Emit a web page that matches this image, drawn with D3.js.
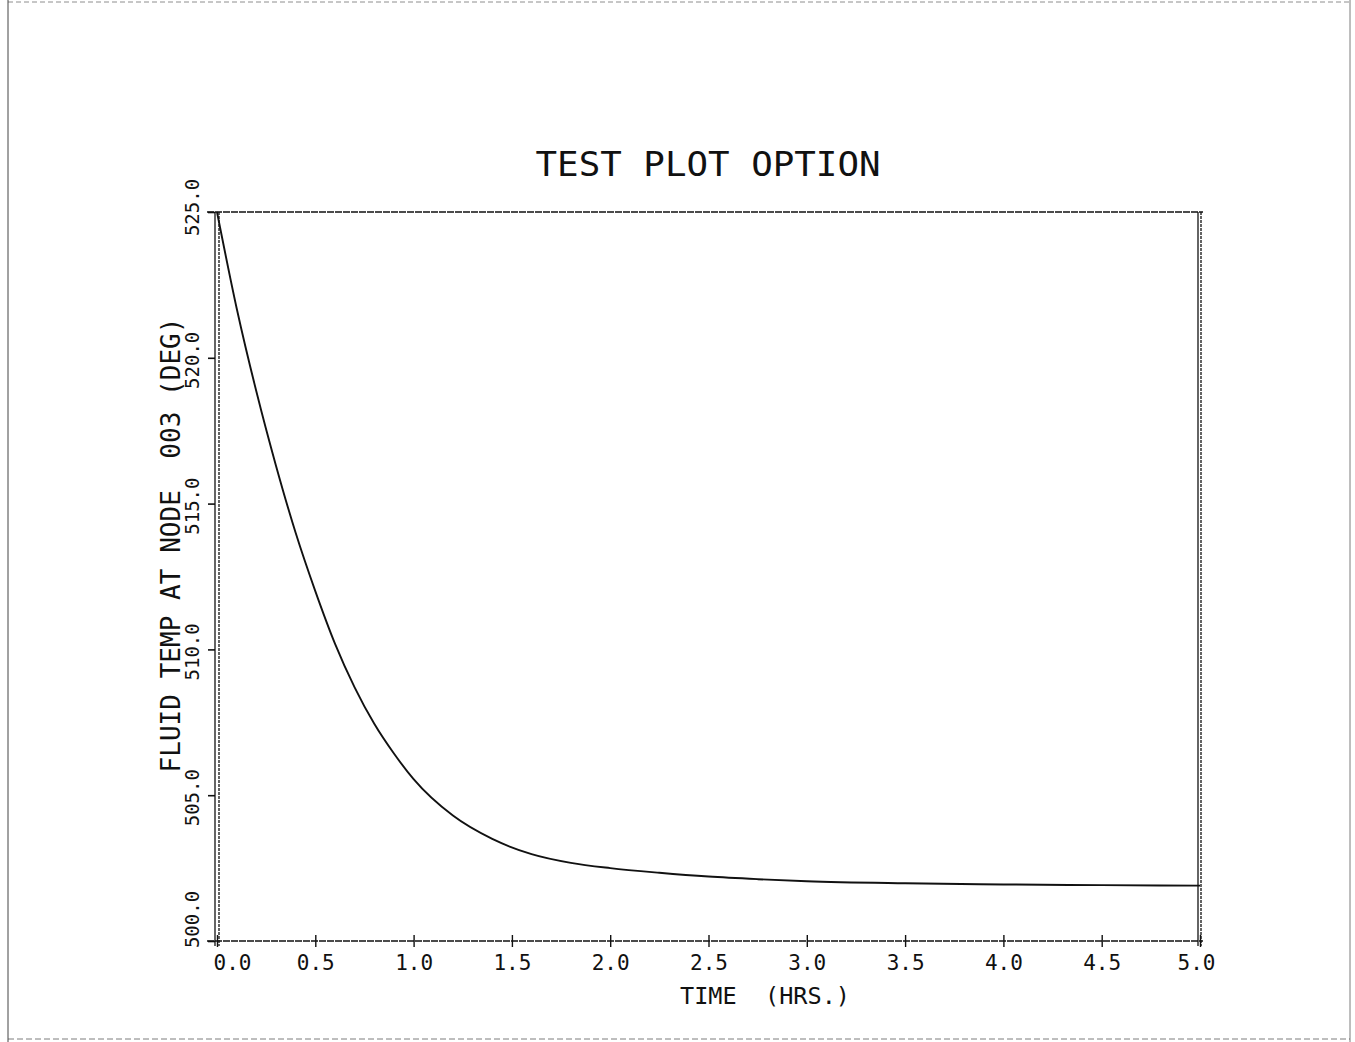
<!DOCTYPE html>
<html>
<head>
<meta charset="utf-8">
<script src="https://cdn.jsdelivr.net/npm/d3@7/dist/d3.min.js"></script>
<style>
  html, body { margin: 0; padding: 0; background: #fff; }
  svg { display: block; }
  text { font-family: "DejaVu Sans Mono", "Liberation Mono", monospace; fill: #111; white-space: pre; }
</style>
</head>
<body>
<svg id="chart" width="1355" height="1042"></svg>
<script>
// ---- data ----
const timeHrs = [0.0, 0.1, 0.2, 0.3, 0.4, 0.5, 0.6, 0.7, 0.8, 0.9, 1.0, 1.2, 1.4, 1.6, 1.8, 2.0, 2.25, 2.5, 2.75, 3.0, 3.5, 4.0, 4.5, 5.0];
const fluidTemp = [525.0, 521.7, 518.85, 516.3, 514.0, 512.0, 510.2, 508.7, 507.45, 506.43, 505.55, 504.3, 503.5, 502.98, 502.68, 502.5, 502.34, 502.21, 502.12, 502.05, 501.98, 501.94, 501.915, 501.9];
const xTicks = [0.0, 0.5, 1.0, 1.5, 2.0, 2.5, 3.0, 3.5, 4.0, 4.5, 5.0];
const yTicks = [500.0, 505.0, 510.0, 515.0, 520.0, 525.0];
const titleText = "TEST PLOT OPTION";
const xLabelText = "TIME  (HRS.)";
const yLabelText = "FLUID TEMP AT NODE  003 (DEG)";

const svg = d3.select("#chart");
const L = 217, R = 1200, T = 212, B = 941;

const x = d3.scaleLinear().domain([0, 5]).range([L, R]);
const y = d3.scaleLinear().domain([500, 525]).range([B, T]);

// page border (scan edges)
const border = svg.append("g").attr("fill", "none").attr("stroke", "#444").attr("stroke-width", 1);
border.append("line").attr("x1", 8).attr("x2", 1350).attr("y1", 2).attr("y2", 2).attr("stroke-dasharray", "5,3").attr("opacity", 0.6);
border.append("line").attr("x1", 8).attr("x2", 1350).attr("y1", 1039).attr("y2", 1039).attr("stroke-dasharray", "6,3").attr("opacity", 0.7);
border.append("line").attr("x1", 8).attr("x2", 8).attr("y1", 0).attr("y2", 1042);
border.append("line").attr("x1", 1350).attr("x2", 1350).attr("y1", 0).attr("y2", 1042).attr("opacity", 0.7);

// plot frame
const frame = svg.append("g").attr("fill", "none").attr("stroke", "#111");
frame.append("line").attr("x1", L - 10).attr("x2", R + 3).attr("y1", T).attr("y2", T).attr("stroke-width", 1.6).attr("stroke-dasharray", "7,1");
frame.append("line").attr("x1", L - 10).attr("x2", R + 3).attr("y1", B).attr("y2", B).attr("stroke-width", 1.6).attr("stroke-dasharray", "7,1");
frame.append("line").attr("x1", L - 2).attr("x2", L - 2).attr("y1", T).attr("y2", B + 5).attr("stroke-width", 1.3);
frame.append("line").attr("x1", L + 2).attr("x2", L + 2).attr("y1", T).attr("y2", B + 5).attr("stroke-width", 1.3).attr("stroke-dasharray", "3,1");
frame.append("line").attr("x1", R - 2).attr("x2", R - 2).attr("y1", T).attr("y2", B + 5).attr("stroke-width", 1.3);
frame.append("line").attr("x1", R + 1).attr("x2", R + 1).attr("y1", T).attr("y2", B + 5).attr("stroke-width", 1.3).attr("stroke-dasharray", "3,1");

// x axis
const xAxis = svg.append("g").attr("transform", `translate(0,${B - 6})`)
  .call(d3.axisBottom(x).tickValues(xTicks).tickFormat(d3.format(".1f")).tickSize(12).tickPadding(8));
xAxis.select(".domain").remove();
xAxis.selectAll(".tick line").attr("stroke", "#111").attr("stroke-width", 1.4);
xAxis.selectAll(".tick text")
  .attr("font-size", 21).attr("font-family", "DejaVu Sans Mono, monospace").attr("fill", "#111")
  .attr("dx", (d, i) => i === 0 ? 15 : (i === xTicks.length - 1 ? -4 : 0));

// y axis
const yAxis = svg.append("g").attr("transform", `translate(${L - 2},0)`)
  .call(d3.axisLeft(y).tickValues(yTicks).tickFormat(d3.format(".1f")).tickSize(7).tickPadding(0));
yAxis.select(".domain").remove();
yAxis.selectAll(".tick line").attr("stroke", "#111").attr("stroke-width", 1.6);
yAxis.selectAll(".tick text")
  .attr("x", 0).attr("dy", null).attr("text-anchor", "middle")
  .attr("transform", d => `translate(-16,${d === 500 ? -22 : (d === 525 ? -5 : 2)}) rotate(-90)`)
  .attr("font-size", 19).attr("font-family", "DejaVu Sans Mono, monospace").attr("fill", "#111");

// curve
const pts = timeHrs.map((t, i) => [t, fluidTemp[i]]);
svg.append("path")
  .datum(pts)
  .attr("fill", "none")
  .attr("stroke", "#111")
  .attr("stroke-width", 1.9)
  .attr("d", d3.line().x(d => x(d[0])).y(d => y(d[1])).curve(d3.curveMonotoneX));

// title
svg.append("text")
  .attr("x", 708).attr("y", 176)
  .attr("text-anchor", "middle")
  .attr("font-size", 34)
  .attr("textLength", 345).attr("lengthAdjust", "spacingAndGlyphs")
  .text(titleText);

// x label
svg.append("text")
  .attr("x", 765).attr("y", 1004)
  .attr("text-anchor", "middle")
  .attr("font-size", 23)
  .attr("textLength", 170).attr("lengthAdjust", "spacingAndGlyphs")
  .text(xLabelText);

// y label
svg.append("text")
  .attr("transform", "translate(180,545) rotate(-90)")
  .attr("text-anchor", "middle")
  .attr("font-size", 27)
  .attr("textLength", 455).attr("lengthAdjust", "spacingAndGlyphs")
  .text(yLabelText);
</script>
</body>
</html>
